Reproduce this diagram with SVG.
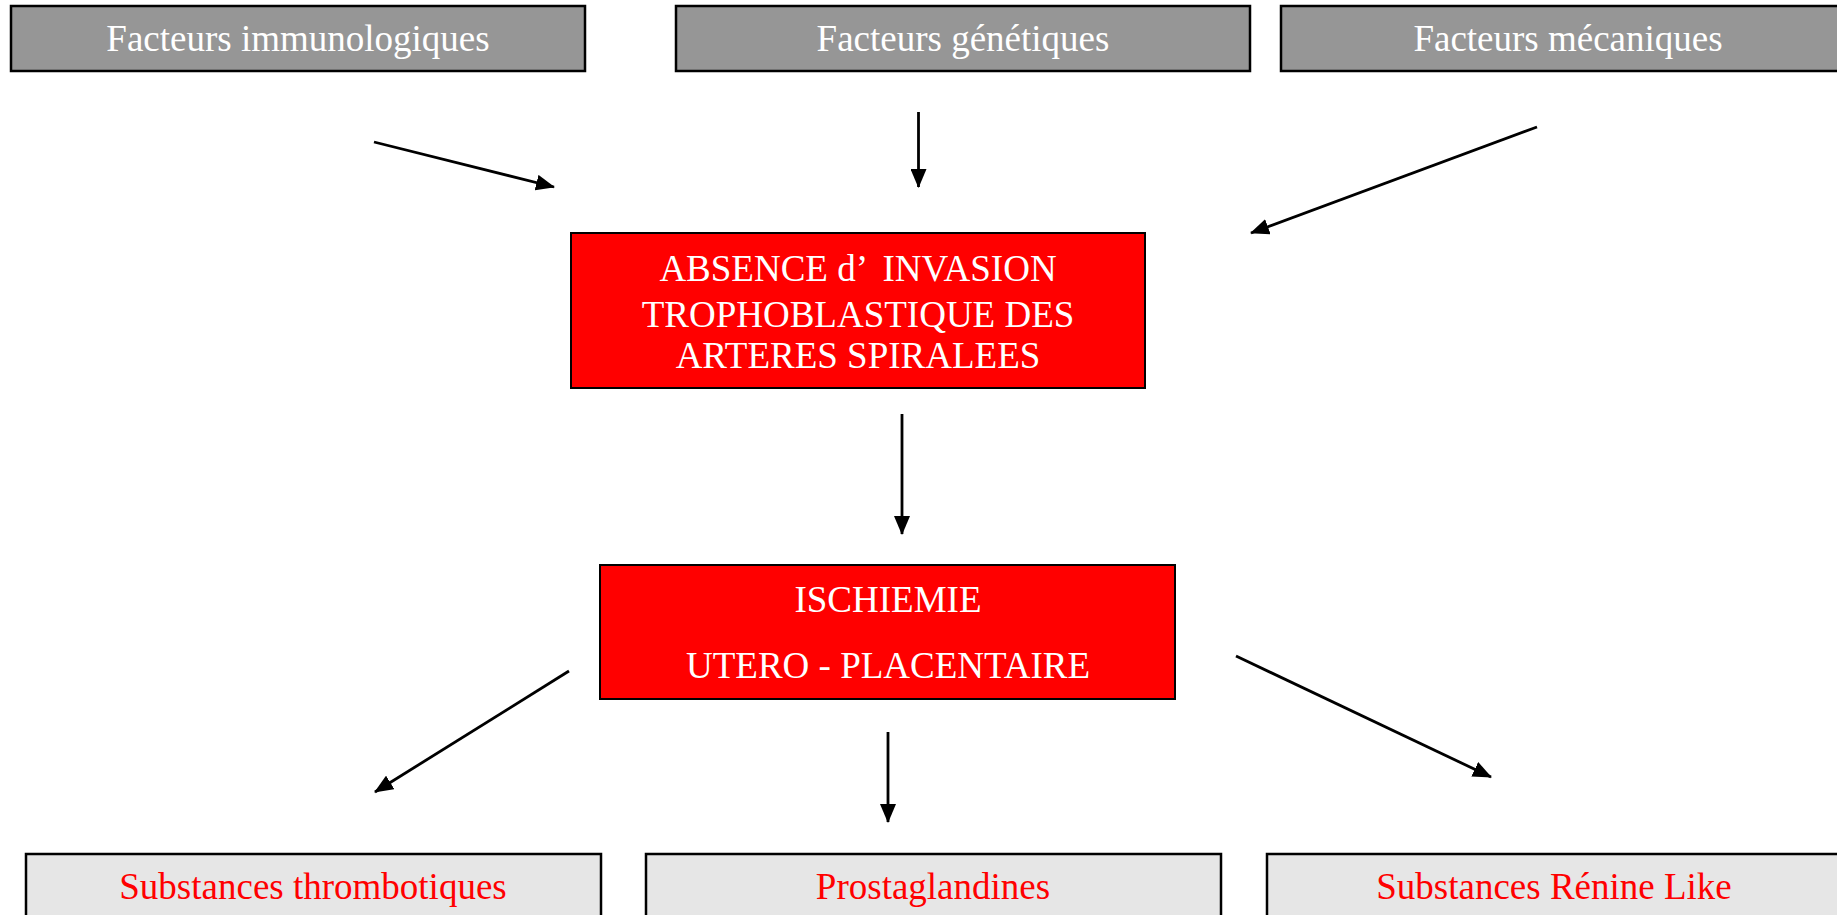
<svg xmlns="http://www.w3.org/2000/svg" width="1837" height="915" viewBox="0 0 1837 915">
<style>
.t{font-family:"Liberation Serif","Times New Roman",serif;font-size:37px;text-anchor:middle}
.w{fill:#ffffff}
.r{fill:#ff0000}
.gray{fill:#969696;stroke:#000;stroke-width:2.5}
.red{fill:#ff0000;stroke:#000;stroke-width:2}
.light{fill:#e6e6e6;stroke:#000;stroke-width:2.5}
.c{stroke:#000;stroke-width:2.8;fill:none;marker-end:url(#ah)}
</style>
<defs>
<marker id="ah" markerUnits="userSpaceOnUse" markerWidth="19" markerHeight="16" refX="18" refY="8" orient="auto">
<path d="M0,0 L19,8 L0,16 z" fill="#000"/>
</marker>
</defs>
<rect width="1837" height="915" fill="#fff"/>
<g id="n-immuno">
<rect class="gray" x="11" y="6" width="574" height="65"/>
<text class="t w" x="298" y="51">Facteurs immunologiques</text>
</g>
<g id="n-genetique">
<rect class="gray" x="676" y="6" width="574" height="65"/>
<text class="t w" x="963" y="51">Facteurs génétiques</text>
</g>
<g id="n-mecanique">
<rect class="gray" x="1281" y="6" width="574" height="65"/>
<text class="t w" x="1568" y="51">Facteurs mécaniques</text>
</g>
<g id="n-absence">
<rect class="red" x="571" y="233" width="574" height="155"/>
<text class="t w" x="858" y="281">ABSENCE d’ <tspan dx="8">INVASION</tspan></text>
<text class="t w" x="858" y="327">TROPHOBLASTIQUE DES</text>
<text class="t w" x="858" y="368">ARTERES SPIRALEES</text>
</g>
<g id="n-ischemie">
<rect class="red" x="600" y="565" width="575" height="134"/>
<text class="t w" x="888" y="612">ISCHIEMIE</text>
<text class="t w" x="888" y="678">UTERO - PLACENTAIRE</text>
</g>
<g id="n-thrombo">
<rect class="light" x="26" y="854" width="575" height="80"/>
<text class="t r" x="313" y="899">Substances thrombotiques</text>
</g>
<g id="n-prosta">
<rect class="light" x="646" y="854" width="575" height="80"/>
<text class="t r" x="933" y="899">Prostaglandines</text>
</g>
<g id="n-renine">
<rect class="light" x="1267" y="854" width="575" height="80"/>
<text class="t r" x="1554" y="899">Substances Rénine Like</text>
</g>
<g id="connectors">
<line class="c" x1="374" y1="142" x2="554" y2="187"/>
<line class="c" x1="918.5" y1="112" x2="918.5" y2="187"/>
<line class="c" x1="1537" y1="127" x2="1251" y2="233"/>
<line class="c" x1="902" y1="414" x2="902" y2="534"/>
<line class="c" x1="569" y1="671" x2="375" y2="792"/>
<line class="c" x1="888" y1="732" x2="888" y2="822"/>
<line class="c" x1="1236" y1="656" x2="1491" y2="777"/>
</g>
</svg>
